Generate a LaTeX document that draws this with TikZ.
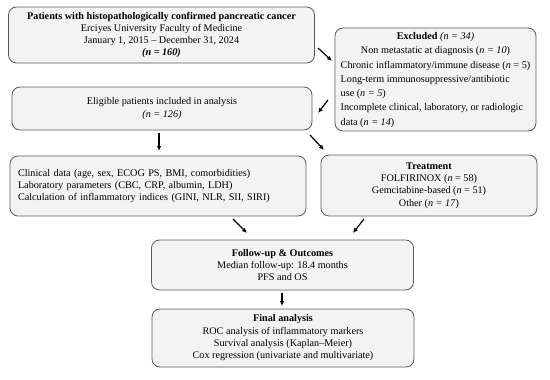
\documentclass[tikz,border=0pt]{standalone}
\usepackage{fontspec}
\setmainfont{Liberation Serif}
\usetikzlibrary{arrows.meta}
\definecolor{boxfill}{HTML}{F3F3F3}
\definecolor{boxline}{HTML}{5A5A5A}
\begin{document}
\begin{tikzpicture}[x=1pt,y=-1pt,
  box/.style={draw=boxline, fill=boxfill, rounded corners=8pt, line width=0.8pt,
    inner sep=0pt, align=center, font=\fontsize{10.2}{12.3}\selectfont},
  arr/.style={-{Latex[length=5pt,width=4.5pt]}, line width=1.2pt}]
\useasboundingbox (0,0) rectangle (550,380);
\fill[white] (0,0) rectangle (550,380);

\node[box, minimum width=306pt, minimum height=56pt] (top) at (161.5,35)
  {\textbf{Patients with histopathologically confirmed pancreatic cancer}\\
   Erciyes University Faculty of Medicine\\
   January 1, 2015 -- December 31, 2024\\
   \textbf{\textit{(n = 160)}}};

\node[box, minimum width=201pt, minimum height=103pt] (excl) at (435.5,79.5)
  {\renewcommand\arraystretch{1.16}%
   \begin{tabular}{@{}l@{}}
   \multicolumn{1}{@{}c@{}}{\textbf{Excluded} \textit{(n = 34)}}\\
   \multicolumn{1}{@{}c@{}}{Non metastatic at diagnosis (\textit{n = 10})}\\
   Chronic inflammatory/immune disease (\textit{n} = 5)\\
   Long-term immunosuppressive/antibiotic\\
   use (\textit{n = 5})\\
   Incomplete clinical, laboratory, or radiologic\\
   data (\textit{n = 14})
   \end{tabular}};

\node[box, minimum width=300pt, minimum height=43pt] (elig) at (162,108.5)
  {Eligible patients included in analysis\\ \textit{(n = 126)}};

\node[box, minimum width=296pt, minimum height=60pt, text width=280pt, align=left] (clin) at (158,186)
  {Clinical data (age, sex, ECOG PS, BMI, comorbidities)\\
   Laboratory parameters (CBC, CRP, albumin, LDH)\\
   Calculation of inflammatory indices (GINI, NLR, SII, SIRI)};

\node[box, minimum width=216pt, minimum height=61pt] (treat) at (429,185.5)
  {\textbf{Treatment}\\
   FOLFIRINOX (\textit{n} = 58)\\
   Gemcitabine-based (\textit{n} = 51)\\
   Other (\textit{n = 17})};

\node[box, minimum width=262pt, minimum height=50pt] (fu) at (282.5,265)
  {\textbf{Follow-up \& Outcomes}\\
   Median follow-up: 18.4 months\\
   PFS and OS};

\node[box, minimum width=262pt, minimum height=58pt] (final) at (283,338)
  {\textbf{Final analysis}\\
   ROC analysis of inflammatory markers\\
   Survival analysis (Kaplan--Meier)\\
   Cox regression (univariate and multivariate)};

\coordinate (a1s) at (318,48);  \coordinate (a1e) at (332,61);
\coordinate (a2s) at (328,100); \coordinate (a2e) at (318,113);
\coordinate (a3s) at (159,133); \coordinate (a3e) at (159,151);
\coordinate (a4s) at (310,135); \coordinate (a4e) at (324,150);
\coordinate (a5s) at (233,219); \coordinate (a5e) at (247,233);
\coordinate (a6s) at (364,219); \coordinate (a6e) at (353,233);
\coordinate (a7s) at (282,293); \coordinate (a7e) at (282,306);

\draw[arr] (a1s) -- (a1e);
\draw[arr] (a2s) -- (a2e);
\draw[arr] (a3s) -- (a3e);
\draw[arr] (a4s) -- (a4e);
\draw[arr] (a5s) -- (a5e);
\draw[arr] (a6s) -- (a6e);
\draw[arr] (a7s) -- (a7e);
\end{tikzpicture}
\end{document}
